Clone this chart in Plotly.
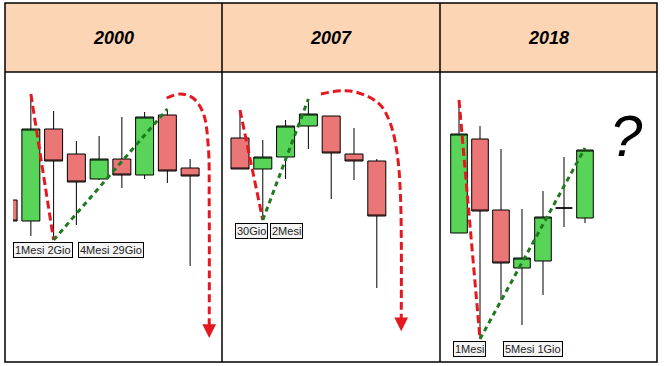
import plotly.graph_objects as go

W, H = 664, 366

# ---------------- data ----------------
years = ["2000", "2007", "2018"]

# 2000
p1_open  = [166, 145, 237, 212, 187, 207, 191, 251, 198]
p1_high  = [166, 272, 255, 225, 230, 249, 254, 257, 207]
p1_low   = [145, 130, 126, 141, 186, 178, 187, 183, 100]
p1_close = [145, 237, 205, 184, 207, 191, 249, 195, 190]

# 2007
p2_open  = [228, 197, 209, 240, 250, 212, 205]
p2_high  = [256, 226, 246, 267, 250, 238, 207]
p2_low   = [197, 146, 187, 217, 167, 186, 78]
p2_close = [197, 209, 240, 252, 213, 205, 150]

# 2018
p3_open  = [133, 227, 156, 98, 105, 158, 148]
p3_high  = [266, 240, 217, 157, 175, 209, 218]
p3_low   = [133, 27, 66, 41, 71, 139, 143]
p3_close = [232, 155, 103, 108, 149, 158, 216]

# duration labels
p1_labels = ["1Mesi 2Gio", "4Mesi 29Gio"]
p2_labels = ["30Gio", "2Mesi"]
p3_labels = ["1Mesi", "5Mesi 1Gio"]

# red "fall" arrows (candle index, price)
p1_arrow_x = [6.97, 7.56, 8.14, 8.58, 8.80, 8.84, 8.84]
p1_arrow_y = [268, 272, 267.7, 252.7, 219.3, 163, 36]
p2_arrow_x = [3.55, 4.84, 6.08, 6.59, 6.89, 7.04, 7.07]
p2_arrow_y = [272, 275, 262.7, 242.7, 212.7, 169.3, 42.7]

# ---------------- styling ----------------
GREEN = "#58d458"
RED = "#ea7676"
LRED = "#e3191f"
DGREEN = "#1f7a1f"
FONT = "Liberation Sans"


def px_x(p):
    return p / W


def px_y(p):
    return 1 - p / H


panels = [
    dict(o=p1_open, h=p1_high, l=p1_low, c=p1_close, dom=(13, 222), rng=(0.215, 9.402)),
    dict(o=p2_open, h=p2_high, l=p2_low, c=p2_close, dom=(222, 440), rng=(-0.789, 8.772)),
    dict(o=p3_open, h=p3_high, l=p3_low, c=p3_close, dom=(440, 657), rng=(-0.905, 9.429)),
]

fig = go.Figure()
layout_axes = {}
for i, p in enumerate(panels):
    sx = "" if i == 0 else str(i + 1)
    xr, yr = "x" + sx, "y" + sx
    n = len(p["o"])
    fig.add_trace(go.Candlestick(
        x=list(range(n)), open=p["o"], high=p["h"], low=p["l"], close=p["c"],
        xaxis=xr, yaxis=yr, whiskerwidth=0, hoverinfo="skip", showlegend=False,
        increasing=dict(fillcolor=GREEN, line=dict(color="black", width=1)),
        decreasing=dict(fillcolor=RED, line=dict(color="black", width=1)),
    ))
    layout_axes["xaxis" + sx] = dict(
        domain=[px_x(p["dom"][0]), px_x(p["dom"][1])], range=list(p["rng"]),
        visible=False, anchor=yr, rangeslider=dict(visible=False), fixedrange=True)
    layout_axes["yaxis" + sx] = dict(
        domain=[px_y(362), px_y(72)], range=[4, 294], visible=False,
        anchor=xr, fixedrange=True)


def dline(xs, ys, color, dash, xr, yr, shape="linear"):
    fig.add_trace(go.Scatter(
        x=xs, y=ys, mode="lines", xaxis=xr, yaxis=yr, hoverinfo="skip",
        showlegend=False, line=dict(color=color, width=3, dash=dash, shape=shape)))


RDASH = "8px,4px"
GDASH = "5px,4px"
# panel 1
dline([1, 2], [p1_high[1], p1_low[2]], LRED, RDASH, "x", "y")
dline([2, 7], [p1_low[2], p1_high[7]], DGREEN, GDASH, "x", "y")
dline(p1_arrow_x, p1_arrow_y, LRED, RDASH, "x", "y", "spline")
# panel 2
dline([0, 1], [p2_high[0], p2_low[1]], LRED, RDASH, "x2", "y2")
dline([1, 3], [p2_low[1], p2_high[3]], DGREEN, GDASH, "x2", "y2")
dline(p2_arrow_x, p2_arrow_y, LRED, RDASH, "x2", "y2", "spline")
# panel 3
dline([0, 1], [p3_high[0], p3_low[1]], LRED, RDASH, "x3", "y3")
dline([1, 6], [p3_low[1], p3_high[6]], DGREEN, GDASH, "x3", "y3")

annotations = []
# arrow heads
for xr, yr, ax_, ay_ in [("x", "y", p1_arrow_x, p1_arrow_y), ("x2", "y2", p2_arrow_x, p2_arrow_y)]:
    annotations.append(dict(
        x=ax_[-1], y=ay_[-1] - 8, xref=xr, yref=yr, text="", showarrow=True,
        ax=0, ay=-14, arrowhead=2, arrowsize=1.1, arrowwidth=2.5, arrowcolor=LRED))

# duration labels
lab_pos = [
    ("x", "y", [1.525, 4.51], [116, 116], p1_labels),
    ("x2", "y2", [0.50, 2.03], [135.2, 135.2], p2_labels),
    ("x3", "y3", [0.49, 3.51], [17.2, 17.2], p3_labels),
]
for xr, yr, xs, ys, texts in lab_pos:
    for xv, yv, t in zip(xs, ys, texts):
        annotations.append(dict(
            x=xv, y=yv, xref=xr, yref=yr, text=t, showarrow=False,
            xanchor="center", yanchor="middle",
            font=dict(family=FONT, size=11, color="#222222"),
            bgcolor="#f4f4f4", bordercolor="black", borderwidth=1, borderpad=1))

# question mark
annotations.append(dict(
    x=7.99, y=231, xref="x3", yref="y3", text="?", showarrow=False,
    xanchor="center", yanchor="middle",
    font=dict(family=FONT, size=58, color="black", style="italic")))

# header titles
col_edges = [5, 222, 440, 657]
for k, yr_txt in enumerate(years):
    cx = (col_edges[k] + col_edges[k + 1]) / 2
    annotations.append(dict(
        x=px_x(cx), y=px_y(38), xref="paper", yref="paper", text=yr_txt,
        xanchor="center", yanchor="middle",
        showarrow=False, font=dict(family=FONT, size=18, color="black",
                                   weight="bold", style="italic")))

shapes = [
    dict(type="rect", xref="paper", yref="paper", x0=px_x(5), x1=px_x(657),
         y0=px_y(72), y1=px_y(3), fillcolor="#FCD5B4", line=dict(width=0), layer="below"),
    dict(type="rect", xref="paper", yref="paper", x0=px_x(5), x1=px_x(657),
         y0=px_y(362), y1=px_y(3), line=dict(color="black", width=1.5)),
    dict(type="line", xref="paper", yref="paper", x0=px_x(5), x1=px_x(657),
         y0=px_y(72), y1=px_y(72), line=dict(color="black", width=1.5)),
    dict(type="line", xref="paper", yref="paper", x0=px_x(222), x1=px_x(222),
         y0=px_y(362), y1=px_y(3), line=dict(color="black", width=1.5)),
    dict(type="line", xref="paper", yref="paper", x0=px_x(440), x1=px_x(440),
         y0=px_y(362), y1=px_y(3), line=dict(color="black", width=1.5)),
]

fig.update_layout(
    width=W, height=H, margin=dict(l=0, r=0, t=0, b=0),
    paper_bgcolor="white", plot_bgcolor="rgba(0,0,0,0)",
    boxgap=0.21, boxgroupgap=0, showlegend=False,
    annotations=annotations, shapes=shapes,
    **layout_axes)

fig.write_html(
    "out.html", config=dict(displayModeBar=False),
    post_script="document.body.style.margin='0';document.body.style.overflow='hidden';")
